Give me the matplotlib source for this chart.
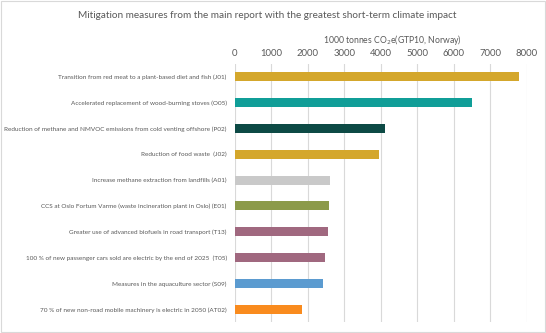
"""Horizontal bar chart: mitigation measures with the greatest short-term climate impact."""
import matplotlib
matplotlib.use("Agg")
import matplotlib.pyplot as plt
from matplotlib.patches import Rectangle

measures = [
    "Transition from red meat to a plant-based diet and fish (J01)",
    "Accelerated replacement of wood-burning stoves (O05)",
    "Reduction of methane and NMVOC emissions from cold venting offshore (P02)",
    "Reduction of food waste  (J02)",
    "Increase methane extraction from landfills (A01)",
    "CCS at Oslo Fortum Varme (waste incineration plant in Oslo) (E01)",
    "Greater use of advanced biofuels in road transport (T13)",
    "100 % of new passenger cars sold are electric by the end of 2025  (T05)",
    "Measures in the aquaculture sector (S09)",
    "70 % of new non-road mobile machinery is electric in 2050 (AT02)",
]
reduction = [7780, 6490, 4100, 3950, 2610, 2590, 2540, 2480, 2420, 1840]
colors = ["#D4A72C", "#109E98", "#0D4A45", "#D4A72C", "#C9C9C9",
          "#8C9A4A", "#A0687F", "#A0687F", "#5B9BD0", "#F98B1E"]
xticks = [0, 1000, 2000, 3000, 4000, 5000, 6000, 7000, 8000]

plt.rcParams["font.family"] = ["Lato", "DejaVu Sans"]
grey = "#595959"

fig = plt.figure(figsize=(5.46, 3.33), dpi=100)
ax = fig.add_axes([0.4304, 0.0324, 0.5343, 0.776])

pos = list(range(len(measures)))
ax.barh(pos, reduction, height=0.35, color=colors, zorder=3)
ax.set_ylim(len(measures) - 0.5, -0.5)
ax.set_xlim(0, 8000)
ax.set_xticks(xticks)
ax.set_yticks(pos)
ax.set_yticklabels(measures, fontsize=4.6, color=grey)
ax.xaxis.tick_top()
ax.xaxis.set_label_position("top")
ax.tick_params(axis="x", length=0, labelsize=6.8, labelcolor=grey, pad=4)
ax.tick_params(axis="y", length=0, pad=6)
ax.set_xlabel("1000 tonnes CO$_2$e(GTP10, Norway)", fontsize=6.2, color=grey)
ax.xaxis.set_label_coords(0.54, 1.08)
ax.grid(axis="x", color="#D9D9D9", linewidth=0.8, zorder=0)
for s in ax.spines.values():
    s.set_visible(False)

fig.text(0.49, 0.952, "Mitigation measures from the main report with the greatest short-term climate impact",
         ha="center", va="center", fontsize=7.2, color=grey)

fig.patches.append(Rectangle((0.002, 0.004), 0.996, 0.992, transform=fig.transFigure,
                             fill=False, edgecolor="#D9D9D9", linewidth=0.8))

fig.savefig("out.png", dpi=100)
